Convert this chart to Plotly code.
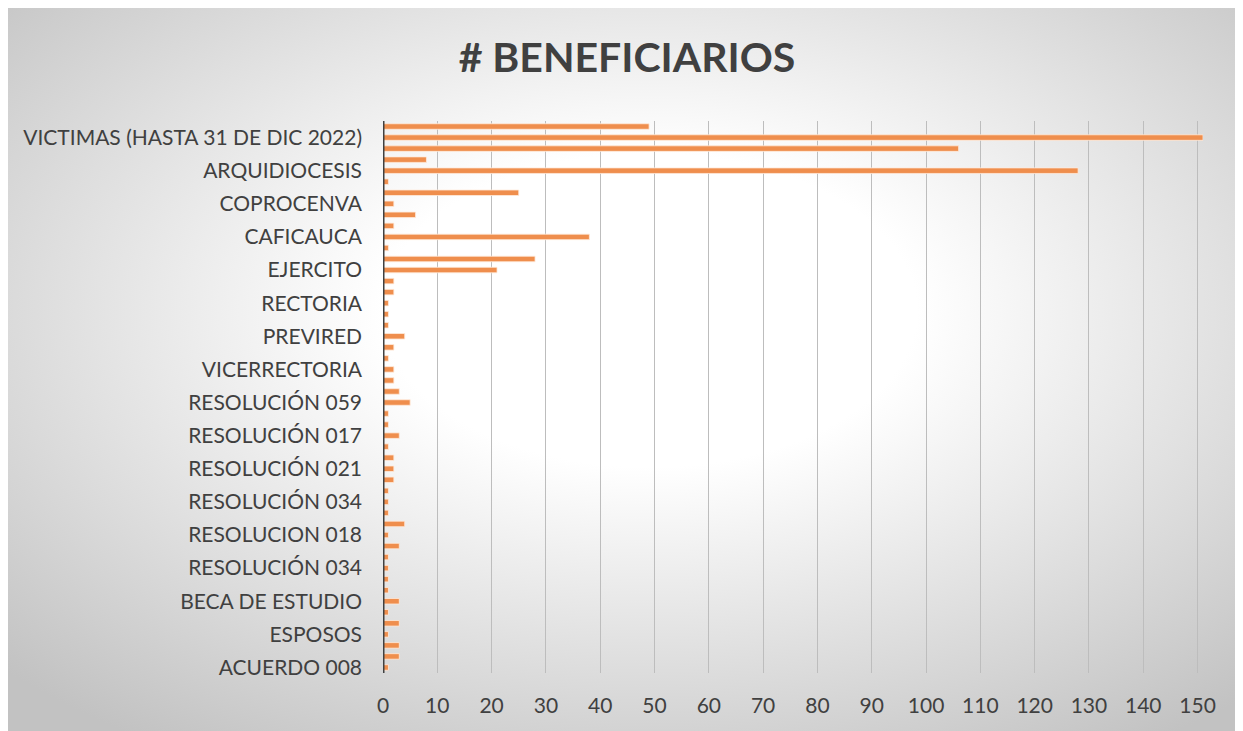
import base64
import plotly.graph_objects as go

# Categories listed top-to-bottom as displayed ('' = category whose label is hidden)
labels = [
    "", "VICTIMAS (HASTA 31 DE DIC 2022)", "", "", "ARQUIDIOCESIS", "", "", "COPROCENVA", "", "",
    "CAFICAUCA", "", "", "EJERCITO", "", "", "RECTORIA", "", "", "PREVIRED",
    "", "", "VICERRECTORIA", "", "", "RESOLUCIÓN 059", "", "", "RESOLUCIÓN 017", "",
    "", "RESOLUCIÓN 021", "", "", "RESOLUCIÓN 034", "", "", "RESOLUCION 018", "", "",
    "RESOLUCIÓN 034", "", "", "BECA DE ESTUDIO", "", "", "ESPOSOS", "", "", "ACUERDO 008",
]
values = [
    49, 151, 106, 8, 128, 1, 25, 2, 6, 2,
    38, 1, 28, 21, 2, 2, 1, 1, 1, 4,
    2, 1, 2, 2, 3, 5, 1, 1, 3, 1,
    2, 2, 2, 1, 1, 1, 4, 1, 3, 1,
    1, 1, 1, 3, 1, 3, 1, 3, 3, 1,
]
x_ticks = list(range(0, 151, 10))
title_text = "# BENEFICIARIOS"

n = len(values)
ypos = [n - 1 - i for i in range(n)]
tickvals = [ypos[i] for i in range(n) if labels[i]]
ticktext = [labels[i] for i in range(n) if labels[i]]

# page has an 8px body margin: lay out in page coordinates shifted by OFF
OFF = 8
W, H = 1243, 731
L, R, T, B = 383 - OFF, 40 + OFF, 121 - OFF, 58 + OFF
pw, ph = W - L - R, H - T - B

svg = (
    '<svg xmlns="http://www.w3.org/2000/svg" width="1236" height="725" preserveAspectRatio="none">'
    '<defs><radialGradient id="g" cx="52%" cy="42%" r="72%">'
    '<stop offset="0" stop-color="#ffffff"/>'
    '<stop offset="0.3" stop-color="#ffffff"/>'
    '<stop offset="1" stop-color="#c2c2c2"/>'
    '</radialGradient></defs>'
    '<rect x="0" y="0" width="1236" height="725" fill="url(#g)"/></svg>'
)
src = "data:image/svg+xml;base64," + base64.b64encode(svg.encode()).decode()

fig = go.Figure()
fig.add_trace(go.Bar(
    x=values, y=ypos, orientation="h",
    marker=dict(color="#EF8E4D", line=dict(color="rgba(255,235,220,0.8)", width=1)),
    hoverinfo="x",
))

bx0, by0, bx1, by1 = 7 - OFF, 6 - OFF, 1243 - OFF, 731 - OFF
fig.add_layout_image(dict(
    source=src, xref="paper", yref="paper",
    x=(bx0 - L) / pw, y=(H - B - by0) / ph,
    sizex=(bx1 - bx0) / pw, sizey=(by1 - by0) / ph,
    xanchor="left", yanchor="top", sizing="stretch", layer="below",
))
fig.add_shape(type="rect", xref="paper", yref="paper",
              x0=(bx0 - L) / pw, x1=(bx1 - L) / pw + 0.01,
              y0=(H - B - by1) / ph - 0.01, y1=(H - B - by0) / ph,
              line=dict(color="#d4d4d4", width=1), layer="below")

font_family = "Lato, 'Open Sans', sans-serif"
fig.update_layout(
    width=W, height=H,
    margin=dict(l=L, r=R, t=T, b=B, pad=0),
    paper_bgcolor="white", plot_bgcolor="rgba(0,0,0,0)",
    bargap=0.5, showlegend=False,
    font=dict(family=font_family, color="#404040"),
    title=dict(text="<b>" + title_text + "</b>", x=(627 - OFF) / W, xanchor="center",
               xref="container", yref="container", y=1 - (58 - OFF) / H, yanchor="middle",
               font=dict(size=41, color="#404040", family=font_family)),
    xaxis=dict(range=[0, 151], tickvals=x_ticks, ticktext=[str(v) for v in x_ticks],
               showgrid=True, gridcolor="#bdbdbd", gridwidth=1,
               zeroline=False, showline=False, ticks="", ticklabelstandoff=18,
               tickfont=dict(size=21, color="#404040")),
    yaxis=dict(range=[-0.5, n - 0.5], tickvals=tickvals, ticktext=ticktext,
               showgrid=False, zeroline=False, showline=False, ticks="",
               ticklabelstandoff=20, tickfont=dict(size=21, color="#404040")),
)
fig.add_shape(type="line", xref="x", yref="paper", x0=0, x1=0, y0=0, y1=1,
              line=dict(color="#404040", width=3))

fig.write_html("out.html")
